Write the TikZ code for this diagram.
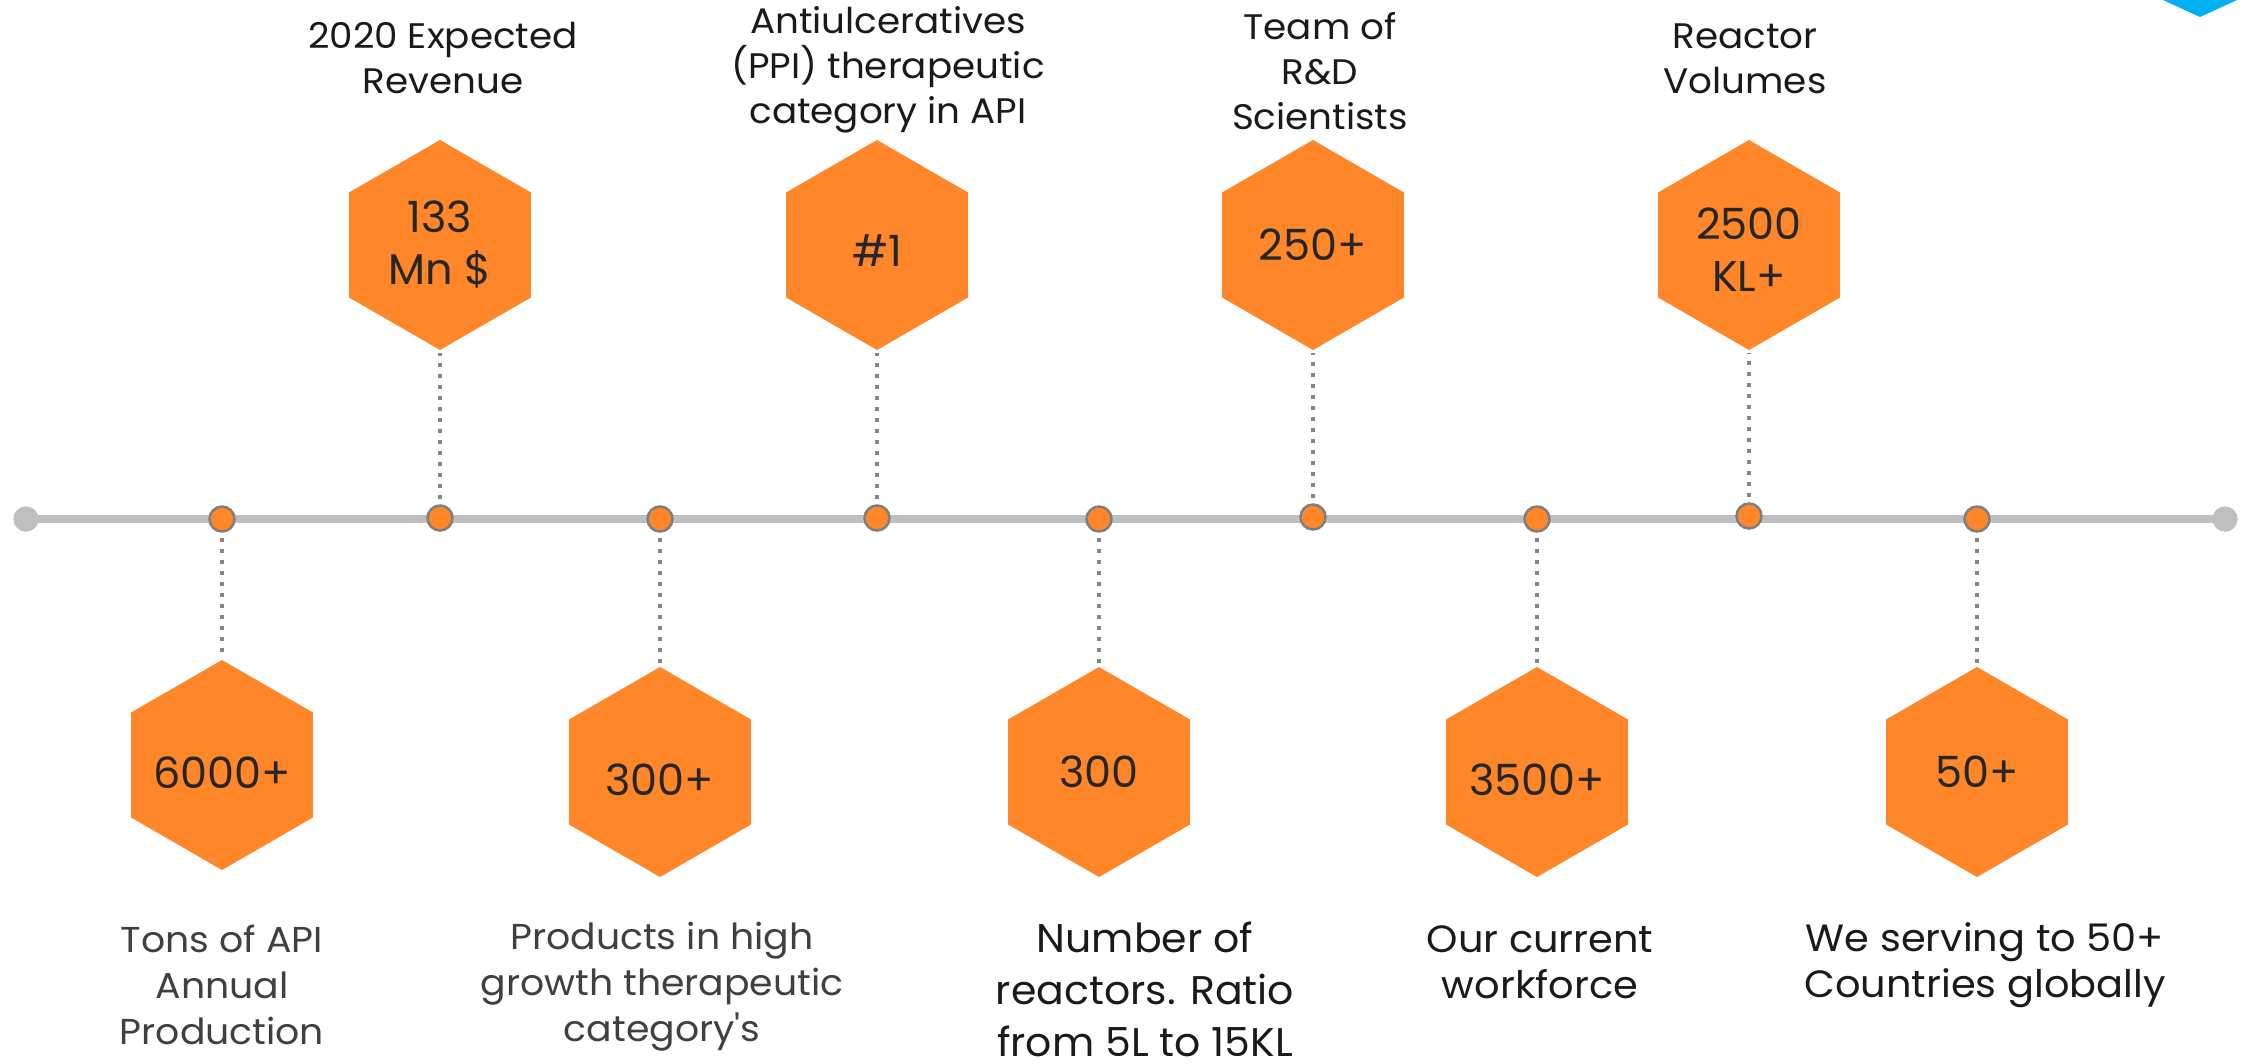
\documentclass[tikz,border=0pt]{standalone}
\usepackage{fontspec}
\setmainfont{Poppins}
\newfontfamily\widefont{Poppins}[FakeStretch=1.05]
\newfontfamily\midfont{Poppins}[FakeStretch=1.025]
\usetikzlibrary{shapes.geometric}
\definecolor{hexorange}{HTML}{FF8629}
\definecolor{linegray}{HTML}{BFBFBF}
\definecolor{dotborder}{HTML}{7F7F7F}
\definecolor{conngray}{HTML}{858585}
\definecolor{darktext}{HTML}{1A1A1A}
\definecolor{hextext}{HTML}{262626}
\definecolor{softtext}{HTML}{404040}
\definecolor{accentblue}{HTML}{00B0F0}
% text line inside a hexagon: zero width (so the hexagon keeps its size), optional drop
\newcommand\hexline[2][0pt]{\raisebox{-#1}[\height][\depth]{\makebox[0pt][c]{#2}}}
\begin{document}
\begin{tikzpicture}[x=1pt,y=-1pt,
  hexa/.style={regular polygon, regular polygon sides=6, shape border rotate=30,
    minimum size=210pt, inner sep=0pt, outer sep=0pt, fill=hexorange,
    text=hextext, align=center, font=\fontsize{43}{52}\selectfont},
  tdot/.style={circle, minimum size=25pt, inner sep=0pt, fill=hexorange, draw=dotborder, line width=2.5pt},
  enddot/.style={circle, minimum size=25pt, inner sep=0pt, fill=linegray},
  timeline/.style={draw=linegray, line width=8pt},
  conn/.style={draw=conngray, line width=4pt, dash pattern=on 4pt off 7pt, shorten <=5pt, shorten >=3pt},
  toplabel/.style={align=center, text=darktext, inner sep=0pt, font=\widefont\fontsize{35.5}{45}\selectfont},
  softlabel/.style={align=center, text=softtext, inner sep=0pt, font=\widefont\fontsize{36}{46}\selectfont},
  blacklabel/.style={align=center, text=darktext, inner sep=0pt, font=\widefont\fontsize{38}{46}\selectfont},
  biglabel/.style={align=center, text=darktext, inner sep=0pt, font=\midfont\fontsize{40}{52}\selectfont}
]
\useasboundingbox[fill=white] (0,0) rectangle (2249,1063);

% corner accent
\fill[accentblue] (2163,0) -- (2237,0) -- (2200,17) -- cycle;

% timeline
\node[enddot] (e1) at (26,519) {};
\node[enddot] (e2) at (2225,519) {};
\draw[timeline] (e1.center) -- (e2.center);
\node[enddot] at (e1) {};
\node[enddot] at (e2) {};

% dots
\node[tdot] (d1) at (222,519) {};
\node[tdot] (d2) at (440,518) {};
\node[tdot] (d3) at (660,519) {};
\node[tdot] (d4) at (877,518) {};
\node[tdot] (d5) at (1099,519) {};
\node[tdot] (d6) at (1313,517) {};
\node[tdot] (d7) at (1537,519) {};
\node[tdot] (d8) at (1749,516) {};
\node[tdot] (d9) at (1977,519) {};

% hexagons
\node[hexa] (h1) at (222,765) {\hexline[8pt]{6000+}};
\node[hexa] (h2) at (440,245) {\hexline{133}\\\hexline{Mn \$}};
\node[hexa] (h3) at (660,772) {\hexline[8pt]{300+}};
\node[hexa] (h4) at (877,245) {\hexline[6pt]{\#1}};
\node[hexa] (h5) at (1099,772) {\hexline{300}};
\node[hexa] (h6) at (1313,245) {\hexline{250+}};
\node[hexa] (h7) at (1537,772) {\hexline[8pt]{3500+}};
\node[hexa] (h8) at (1749,245) {\hexline[5pt]{2500}\\\hexline[5pt]{KL+}};
\node[hexa] (h9) at (1977,772) {\hexline{50+}};

% connectors
\draw[conn] (d1) -- (h1);
\draw[conn] (d2) -- (h2);
\draw[conn] (d3) -- (h3);
\draw[conn] (d4) -- (h4);
\draw[conn] (d5) -- (h5);
\draw[conn] (d6) -- (h6);
\draw[conn] (d7) -- (h7);
\draw[conn] (d8) -- (h8);
\draw[conn] (d9) -- (h9);

% top labels
\node[toplabel] (t2) at (443,58) {2020 Expected\\Revenue};
\node[toplabel] (t4) at (888,70) {Antiulceratives\\(PPI) therapeutic\\category in API};
\node[toplabel] (t6) at (1320,71) {Team of\\R\&D\\Scientists};
\node[toplabel] (t8) at (1745,59) {Reactor\\Volumes};

% bottom labels
\node[softlabel] (b1) at (222,985) {Tons of API\\Annual\\Production};
\node[softlabel] (b3) at (662,987) {Products in high\\growth therapeutic\\category\textquotesingle s};
\node[biglabel] (b5) at (1145,989) {Number of\\reactors. Ratio\\from 5L to 15KL};
\node[blacklabel] (b7) at (1540,962) {Our current\\workforce};
\node[blacklabel] (b9) at (1985,965) {We serving to 50+\\Countries globally};
\end{tikzpicture}
\end{document}
